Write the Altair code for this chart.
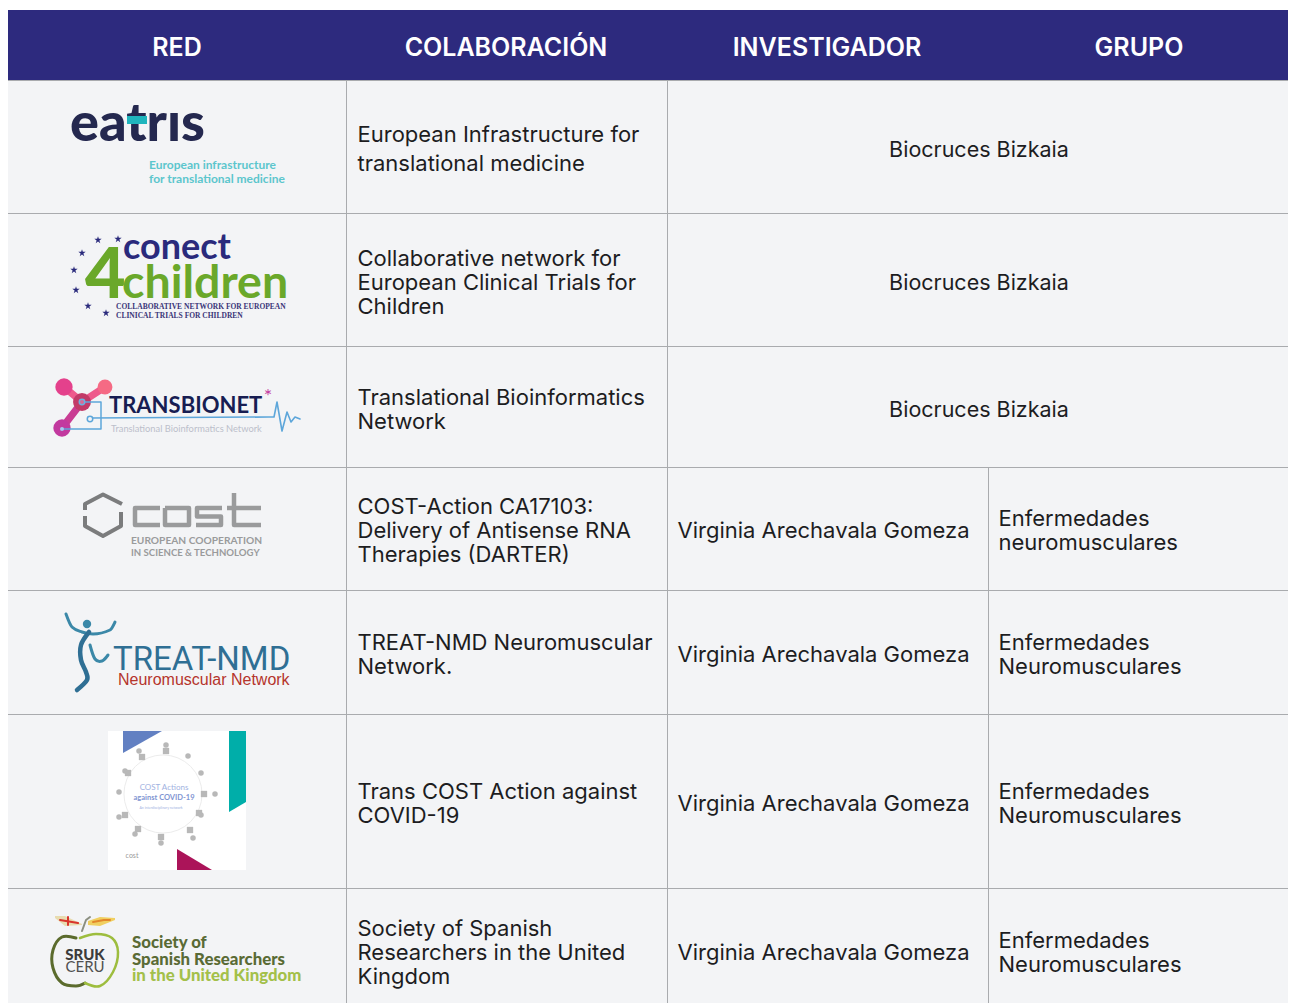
import altair as alt
import pandas as pd

# ---------- table content ----------
HEADERS = ["RED", "COLABORACIÓN", "INVESTIGADOR", "GRUPO"]
COLAB = [
    ["European Infrastructure for", "translational medicine"],
    ["Collaborative network for", "European Clinical Trials for", "Children"],
    ["Translational Bioinformatics", "Network"],
    ["COST-Action CA17103:", "Delivery of Antisense RNA", "Therapies (DARTER)"],
    ["TREAT-NMD Neuromuscular", "Network."],
    ["Trans COST Action against", "COVID-19"],
    ["Society of Spanish", "Researchers in the United", "Kingdom"],
]
MERGED = ["Biocruces Bizkaia"] * 3
INVEST = ["Virginia Arechavala Gomeza"] * 4
GRUPO = [
    ["Enfermedades", "neuromusculares"],
    ["Enfermedades", "Neuromusculares"],
    ["Enfermedades", "Neuromusculares"],
    ["Enfermedades", "Neuromusculares"],
]

# ---------- layout (page pixels) ----------
LEFT, RIGHT, TOP, BOTTOM = 8, 1288, 8, 1003
W = RIGHT - LEFT
H = BOTTOM - TOP
HEAD_TOP, HEAD_BOT = 10, 80
TABLE_R = RIGHT
ROW_LINES = [80, 213, 346, 467, 590, 714, 888]
COL_1, COL_2, COL_3 = 347, 667, 988
ROW_MID = [149, 283, 410, 531, 655, 804, 953]
MERGED_MID = [150.5, 283.5, 410.5]
HEAD_X = [177, 506, 827, 1139]
LINE_H = [29, 24, 24, 24, 24, 24, 24]
TEXT_X = [357.5, 677.5, 998.5]

FONT = "Inter"
BODY = 22
TXT = "#1d1d1f"
GRID = "#a9abae"
BG = "#f3f4f6"
NAVY = "#2d2a7e"
STAR = "M0,-1L0.22,-0.31L0.95,-0.31L0.36,0.12L0.59,0.81L0,0.38L-0.59,0.81L-0.36,0.12L-0.95,-0.31L-0.22,-0.31Z"

xs = alt.Scale(domain=[LEFT, RIGHT], range=[0, W], nice=False, zero=False)
ys = alt.Scale(domain=[TOP, BOTTOM], range=[0, H], nice=False, zero=False)
X = lambda f="x": alt.X(f"{f}:Q", scale=xs, axis=None)
Y = lambda f="y": alt.Y(f"{f}:Q", scale=ys, axis=None)


def box(x0, x1, y0, y1, color):
    d = pd.DataFrame({"x": [x0], "x2": [x1], "y": [y0], "y2": [y1]})
    return alt.Chart(d).mark_rect(color=color).encode(x=X(), x2="x2:Q", y=Y(), y2="y2:Q")


def hline(y, x0, x1, color=GRID, w=1):
    d = pd.DataFrame({"x": [x0], "x2": [x1], "y": [y]})
    return alt.Chart(d).mark_rule(color=color, strokeWidth=w).encode(x=X(), x2="x2:Q", y=Y())


def vline(x, y0, y1, color=GRID, w=1):
    d = pd.DataFrame({"x": [x], "y": [y0], "y2": [y1]})
    return alt.Chart(d).mark_rule(color=color, strokeWidth=w).encode(x=X(), y=Y(), y2="y2:Q")


def text(s, x, y, size=BODY, color=TXT, font=FONT, weight="normal", align="left",
         baseline="middle", opacity=1):
    d = pd.DataFrame({"x": [x], "y": [y], "t": [s]})
    return alt.Chart(d).mark_text(fontSize=size, color=color, font=font, fontWeight=weight,
                                  align=align, baseline=baseline, opacity=opacity).encode(
        x=X(), y=Y(), text="t:N")


def poly(pts, color, w=1.5, interp="linear", opacity=1, cap="round"):
    d = pd.DataFrame({"x": [p[0] for p in pts], "y": [p[1] for p in pts], "i": range(len(pts))})
    return alt.Chart(d).mark_line(color=color, strokeWidth=w, interpolate=interp,
                                  opacity=opacity, strokeCap=cap, strokeJoin="round").encode(
        x=X(), y=Y(), order="i:Q")


def blob(px, top, bot, color, interp="linear"):
    d = pd.DataFrame({"x": px, "y": top, "y2": bot})
    return alt.Chart(d).mark_area(color=color, opacity=1, interpolate=interp).encode(
        x=X(), y=Y(), y2="y2:Q")


def dots(pts, color, size, shape="circle", opacity=1):
    d = pd.DataFrame({"x": [p[0] for p in pts], "y": [p[1] for p in pts]})
    return alt.Chart(d).mark_point(filled=True, color=color, size=size, shape=shape,
                                   opacity=opacity).encode(x=X(), y=Y())


def ring(x, y, size, color, w=1.5, fill=None):
    d = pd.DataFrame({"x": [x], "y": [y]})
    kw = dict(fill=fill, fillOpacity=1) if fill else {}
    return alt.Chart(d).mark_point(shape="circle", stroke=color, strokeWidth=w, size=size,
                                   opacity=1, **kw).encode(x=X(), y=Y())


L = []
# ---------- table frame ----------
L.append(box(LEFT, TABLE_R, HEAD_BOT, BOTTOM, BG))
L.append(box(LEFT, TABLE_R, HEAD_TOP, HEAD_BOT, NAVY))
for r in ROW_LINES:
    L.append(hline(r + 0.5, LEFT, TABLE_R))
L.append(vline(COL_1 - 0.5, HEAD_BOT, BOTTOM))
L.append(vline(COL_2 + 0.5, HEAD_BOT, BOTTOM))
L.append(vline(COL_3 + 0.5, ROW_LINES[3], BOTTOM))

for h, x in zip(HEADERS, HEAD_X):
    L.append(text(h, x, 47.5, size=25, color="#ffffff", weight=600, align="center"))

for lines, mid, lh in zip(COLAB, ROW_MID, LINE_H):
    start = mid - lh * (len(lines) - 1) / 2
    for i, s in enumerate(lines):
        L.append(text(s, TEXT_X[0], start + i * lh))
for s, mid in zip(MERGED, MERGED_MID):
    L.append(text(s, 979, mid, size=21.5, align="center"))
for s, mid in zip(INVEST, ROW_MID[3:]):
    L.append(text(s, TEXT_X[1], mid))
for lines, mid in zip(GRUPO, ROW_MID[3:]):
    start = mid - 24 * (len(lines) - 1) / 2
    for i, s in enumerate(lines):
        L.append(text(s, TEXT_X[2], start + i * 24))

# ---------- eatris logo ----------
L.append(text("eatrıs", 70, 141, size=54, color="#24284f", font="Lato", weight=900, baseline="alphabetic"))
L.append(box(127, 147, 116, 124, "#1fb5bd"))
L.append(text("European infrastructure", 149, 165, size=12, color="#5cc6cd", font="Lato", weight="bold"))
L.append(text("for translational medicine", 149, 179, size=12, color="#5cc6cd", font="Lato", weight="bold"))

# ---------- conect4children logo ----------
L.append(dots([(98, 240), (118, 239), (82, 253), (74, 270), (76, 290), (88, 306), (106, 313)],
              "#2a2a7c", 60, shape=STAR))
L.append(text("conect", 123, 259, size=36, color="#2a2a7c", font="Lato", weight="bold", baseline="alphabetic"))
L.append(text("4", 85, 298, size=70, color="#6aa82a", font="Lato", weight=900, baseline="alphabetic"))
L.append(text("children", 122, 298, size=46.5, color="#6aa82a", font="Lato", weight="bold", baseline="alphabetic"))
L.append(text("COLLABORATIVE NETWORK FOR EUROPEAN", 116, 307, size=7.5, color="#3a3578",
              font="Liberation Serif", weight="bold"))
L.append(text("CLINICAL TRIALS FOR CHILDREN", 116, 316, size=7.5, color="#3a3578",
              font="Liberation Serif", weight="bold"))

# ---------- TRANSBIONET logo ----------
L.append(poly([(64, 387), (82, 402), (105, 387)], "#ee5a8c", w=7))
L.append(poly([(82, 402), (62, 428)], "#c93d94", w=7))
L.append(dots([(64, 387)], "#e4418c", 300))
L.append(dots([(105, 387)], "#f56a84", 220))
L.append(dots([(62, 428)], "#c2399f", 300))
L.append(dots([(82, 402)], "#c23a68", 320))
L.append(poly([(84, 402), (101, 402), (101, 429), (62, 429)], "#5da6da", w=1.5))
L.append(poly([(90, 418), (268, 417), (274, 417), (277, 402), (282, 431), (287, 412), (291, 422),
               (295, 417), (300, 419)], "#5da6da", w=1.6))
L.append(ring(90, 419, 30, "#5da6da", w=1.5, fill=BG))
L.append(ring(82, 402, 30, "#6db0e0", w=1.5, fill="#d86a96"))
L.append(dots([(62, 429)], "#a8c8f0", 16))
L.append(text("TRANSBIONET", 109, 413, size=22, color="#171d52", font="Lato", weight="bold", baseline="alphabetic"))
L.append(text("Translational Bioinformatics Network", 111, 429, size=9.3, color="#bcbfcb", font="Lato"))
L.append(text("*", 268, 397, size=20, color="#c33ba0", font="Lato", align="center"))

# ---------- COST logo ----------
G1, G2 = "#7b7c7d", "#9a9b9c"
L.append(poly([(85, 510), (85, 504), (103, 494.5), (122, 504)], G1, w=4, cap="butt"))
L.append(poly([(85, 516), (85, 526), (103, 536), (121, 526), (121, 512)], G1, w=4, cap="butt"))
L.append(poly([(160, 508), (135, 508), (135, 525), (160, 525)], G2, w=4.5, cap="butt"))
L.append(poly([(165, 508), (189, 508), (189, 525), (165, 525), (165, 508)], G2, w=4.5, cap="butt"))
L.append(poly([(222, 508), (197, 508), (197, 516.5), (221, 516.5), (221, 525), (196, 525)], G2, w=4.5, cap="butt"))
L.append(poly([(234, 493), (234, 525), (261, 525)], G2, w=4.5, cap="butt"))
L.append(poly([(227, 508), (261, 508)], G2, w=4.5, cap="butt"))
L.append(text("EUROPEAN COOPERATION", 131, 541, size=10.2, color="#9a9b9c", font="Lato", weight="bold"))
L.append(text("IN SCIENCE & TECHNOLOGY", 131, 553, size=9.6, color="#9a9b9c", font="Lato", weight="bold"))

# ---------- TREAT-NMD logo ----------
B = "#2f6f94"
L.append(poly([(66, 614), (72, 627), (82, 632), (93, 634), (110, 630), (115, 622)], "#3b88a8", w=3, interp="monotone"))
L.append(dots([(87, 624)], "#3b88a8", 70))
L.append(poly([(89, 632), (81, 645), (81, 660), (86, 672), (87, 680), (77, 690)], B, w=4.5, interp="cardinal"))
L.append(poly([(90, 645), (95, 659), (102, 661), (108, 655)], "#3b88a8", w=3, interp="cardinal"))
L.append(text("TREAT-NMD", 113, 670, size=33, color=B, font="Roboto", baseline="alphabetic"))
L.append(text("Neuromuscular Network", 118, 680, size=16, color="#b5352c", font="Liberation Sans"))

# ---------- COST Actions against COVID-19 cover ----------
L.append(box(108, 246, 731, 870, "#ffffff"))
L.append(blob([123, 162], [731, 731], [753, 731], "#6280c2"))
L.append(blob([229, 246], [731, 731], [812, 802], "#00aea9"))
L.append(blob([177, 212], [849, 870], [870, 870], "#ab1459"))
L.append(ring(163, 794, 6100, "#ececec", w=1))
L.append(dots([(166, 745), (139, 751), (188, 756), (125, 771), (201, 773), (119, 792),
               (215, 794), (119, 817), (201, 815), (135, 834), (193, 838), (161, 843)], "#b8b8b8", 30))
L.append(dots([(166, 751), (142, 757), (128, 773), (204, 794), (125, 815), (138, 829),
               (190, 830), (161, 837), (199, 813)], "#b8b8b8", 40, shape="square"))
L.append(text("COST Actions", 164, 788, size=8, color="#9fb2df", font="Lato", align="center"))
L.append(text("against COVID-19", 164, 798, size=7.5, color="#7f95d2", font="Lato", weight="bold", align="center"))
L.append(text("An interdisciplinary network", 161, 808, size=3.5, color="#9fb2df", font="Lato", align="center"))
L.append(text("cost", 132, 856, size=7, color="#999999", font="Lato", align="center"))

# ---------- SRUK logo ----------
L.append(poly([(76, 938), (62, 937), (53, 950), (53, 968), (62, 983), (76, 986), (85, 983)],
              "#5b6b2d", w=3, interp="cardinal"))
L.append(poly([(85, 983), (100, 986), (113, 972), (118, 952), (112, 938), (96, 934), (80, 938)],
              "#9dbd3e", w=2.5, interp="cardinal"))
L.append(blob([55, 65, 82], [916, 916, 924], [918, 926, 925], "#e8dcb0"))
L.append(poly([(60, 920), (78, 923)], "#d9342c", w=2))
L.append(poly([(68, 917), (68, 925)], "#d9342c", w=2))
L.append(blob([88, 100, 115], [921, 917, 918], [925, 926, 920], "#f0cf60"))
L.append(poly([(93, 922), (104, 920), (110, 920)], "#e2872a", w=2))
L.append(poly([(82, 931), (86, 920), (90, 917)], "#8b8f80", w=2))
L.append(text("SRUK", 85, 955, size=15, color="#3c3c3c", font="Lato", weight=900, align="center"))
L.append(text("CERU", 85, 967, size=15, color="#505050", font="Lato", align="center"))
L.append(text("Society of", 132, 948, size=16.8, color="#5a6b35", font="Lato", weight=900, baseline="alphabetic"))
L.append(text("Spanish Researchers", 132, 965, size=16.8, color="#5a6b35", font="Lato", weight=900, baseline="alphabetic"))
L.append(text("in the United Kingdom", 132, 981, size=16.8, color="#a3c04a", font="Lato", weight=900, baseline="alphabetic"))

chart = alt.layer(*L).properties(
    width=W,
    height=H,
    padding=0,
    autosize=alt.AutoSizeParams(type="none"),
    background="#ffffff",
).configure_view(stroke=None)

chart.save("out.html", embed_options={"renderer": "svg", "actions": False})
